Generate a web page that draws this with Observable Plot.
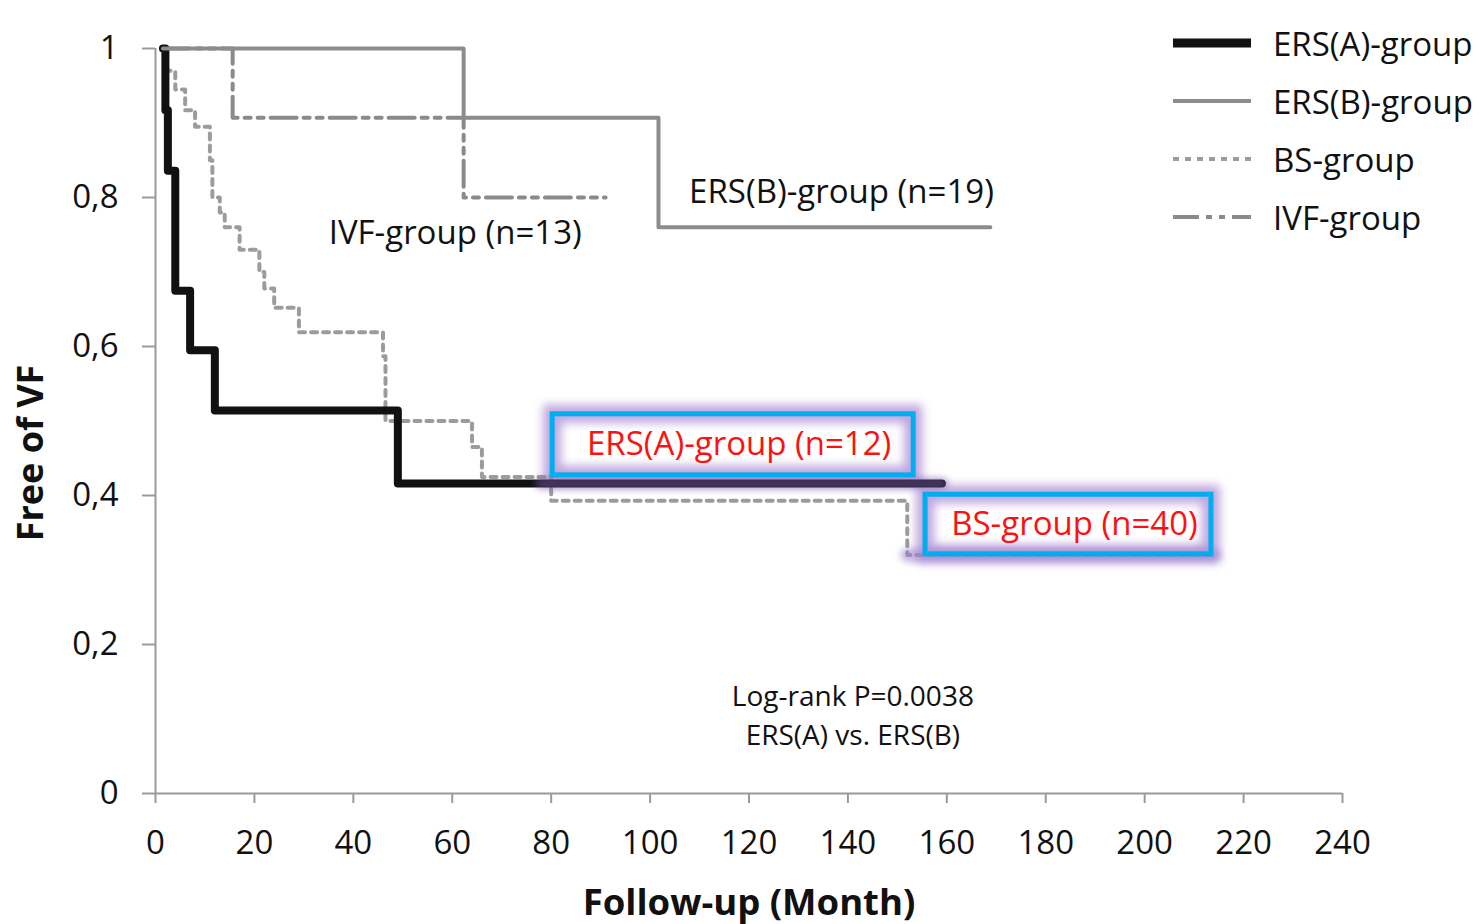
<!DOCTYPE html>
<html><head><meta charset="utf-8">
<script src="https://cdn.jsdelivr.net/npm/d3@7"></script>
<script src="https://cdn.jsdelivr.net/npm/@observablehq/plot@0.6"></script>
<style>
html,body{margin:0;padding:0;background:#fff;}
#wrap{position:relative;width:1480px;height:924px;font-family:"Open Sans",Lato,sans-serif;}
#legend{position:absolute;left:1173px;top:14px;}
.li{display:flex;align-items:center;height:58px;font-size:33px;color:#111;}
.li svg{margin-right:22px;}
</style></head>
<body><div id="wrap"><div id="legend"></div></div>
<script>
// ---- data (month, survival) ----
const ersATime = [1.5, 2, 2.5, 4, 7, 12, 49, 159];
const ersASurv = [1, 0.917, 0.836, 0.675, 0.595, 0.514, 0.416, 0.416];

const ersBTime = [1.5, 62.3, 101.7, 168.8];
const ersBSurv = [1, 0.907, 0.76, 0.76];

const bsTime = [1.5, 2, 4, 6, 8, 11, 11.5, 13, 14, 17, 21, 22, 24, 29, 46, 46.5, 64, 66, 80, 152, 214];
const bsSurv = [1, 0.97, 0.945, 0.917, 0.895, 0.85, 0.80, 0.78, 0.76, 0.73, 0.70, 0.678, 0.652, 0.619, 0.587, 0.5, 0.465, 0.425, 0.393, 0.32, 0.32];

const ivfTime = [1.5, 15.6, 62.3, 91];
const ivfSurv = [1, 0.907, 0.80, 0.80];

const groupNames = ["ERS(A)-group", "ERS(B)-group", "BS-group", "IVF-group"];

const xTicks = [0, 20, 40, 60, 80, 100, 120, 140, 160, 180, 200, 220, 240];
const yTicks = [0, 0.2, 0.4, 0.6, 0.8, 1];
const yTickLabels = ["0", "0,2", "0,4", "0,6", "0,8", "1"];

const labelText = ["IVF-group (n=13)", "ERS(B)-group (n=19)"];
const labelX = [60.6, 138.7];
const labelY = [0.752, 0.807];

const boxText = ["ERS(A)-group (n=12)", "BS-group (n=40)"];
const boxX1 = [80.3, 155.7];
const boxX2 = [153.3, 213.5];
const boxY1 = [0.427, 0.321];
const boxY2 = [0.509, 0.401];

const statText = "Log-rank P=0.0038\nERS(A) vs. ERS(B)";
const statX = 141;
const statY = 0.108;

// ---- build tables ----
const toRows = (t, s) => t.map((d, i) => ({t: d, s: s[i]}));
const ersA = toRows(ersATime, ersASurv);
const ersB = toRows(ersBTime, ersBSurv);
const bs = toRows(bsTime, bsSurv);
const ivf = toRows(ivfTime, ivfSurv);
const labels = labelText.map((l, i) => ({l, x: labelX[i], y: labelY[i]}));
const boxes = boxText.map((l, i) => ({l, x1: boxX1[i], x2: boxX2[i], y1: boxY1[i], y2: boxY2[i]}));
const ersATail = ersA.filter(d => d.t >= 49).map(d => ({t: Math.max(d.t, 78), s: d.s}));
const bsTail = bs.filter(d => d.t >= 152);

const step = "step-after";
const chart = Plot.plot({
  width: 1480,
  height: 924,
  marginLeft: 155,
  marginRight: 138,
  marginTop: 48,
  marginBottom: 131,
  style: {fontFamily: "'Open Sans', Lato, sans-serif", background: "white", color: "#111"},
  x: {domain: [0, 240], axis: null},
  y: {domain: [0, 1], axis: null},
  marks: [
    // axes
    Plot.ruleY([0], {stroke: "#9a9a9a", strokeWidth: 2}),
    Plot.ruleX([0], {stroke: "#9a9a9a", strokeWidth: 2}),
    Plot.axisX({ticks: xTicks, tickSize: 10, tickPadding: 27, fontSize: 33, stroke: "#9a9a9a", strokeWidth: 2, label: null, tickFormat: d => String(d)}),
    Plot.axisY({ticks: yTicks, tickSize: 13, tickPadding: 24, fontSize: 33, stroke: "#9a9a9a", strokeWidth: 2, label: null, tickFormat: (d) => yTickLabels[yTicks.indexOf(d)]}),
    Plot.text(["Follow-up (Month)"], {frameAnchor: "bottom", dy: 121, fontSize: 36.5, fontWeight: "bold", fill: "#111"}),
    Plot.text(["Free of VF"], {frameAnchor: "left", textAnchor: "middle", dx: -124, dy: 32, rotate: -90, fontSize: 36, fontWeight: "bold", fill: "#111"}),
    // glows behind boxes
    Plot.rect(boxes, {x1: "x1", x2: "x2", y1: "y1", y2: "y2", fill: "none", stroke: "#b496d8", strokeWidth: 18, strokeOpacity: 0.85, imageFilter: "blur(5px)"}),
    // curves
    Plot.line(ivf, {x: "t", y: "s", curve: step, stroke: "#8a8a8a", strokeWidth: 4, strokeDasharray: "26,7,6,7,6,7"}),
    Plot.line(bs, {x: "t", y: "s", curve: step, stroke: "#9c9c9c", strokeWidth: 4, strokeDasharray: "6,6"}),
    Plot.line(ersA, {x: "t", y: "s", curve: step, stroke: "#111", strokeWidth: 8}),
    Plot.line(ersB, {x: "t", y: "s", curve: step, stroke: "#8c8c8c", strokeWidth: 4}),
    // purple glow over highlighted tails
    Plot.line(ersATail, {x: "t", y: "s", curve: step, stroke: "#7a5ab0", strokeWidth: 12, strokeOpacity: 0.5, imageFilter: "blur(3px)"}),
    Plot.line(bsTail, {x: "t", y: "s", curve: step, stroke: "#9c7ed0", strokeWidth: 14, strokeOpacity: 0.55, imageFilter: "blur(3px)"}),
    // boxes
    Plot.rect(boxes, {x1: "x1", x2: "x2", y1: "y1", y2: "y2", fill: "none", stroke: "#00aef0", strokeWidth: 5}),
    Plot.text(boxes, {x: d => (d.x1 + d.x2) / 2, y: d => (d.y1 + d.y2) / 2, text: "l", fill: "#ff1010", fontSize: 33, dx: 6}),
    // labels
    Plot.text(labels, {x: "x", y: "y", text: "l", fill: "#111", fontSize: 33}),
    Plot.text([statText], {x: statX, y: statY, fill: "#111", fontSize: 28, lineHeight: 1.38})
  ]
});
document.getElementById("wrap").prepend(chart);

// legend
const legendStyles = [
  {stroke: "#111", width: 9, dash: null},
  {stroke: "#8c8c8c", width: 4, dash: null},
  {stroke: "#9c9c9c", width: 4, dash: "6,6"},
  {stroke: "#8a8a8a", width: 4, dash: "26,7,6,7,6,7"}
];
const legend = d3.select("#legend");
groupNames.forEach((name, i) => {
  const row = legend.append("div").attr("class", "li");
  const svg = row.append("svg").attr("width", 78).attr("height", 20);
  const st = legendStyles[i];
  svg.append("line").attr("x1", 0).attr("x2", 78).attr("y1", 10).attr("y2", 10)
    .attr("stroke", st.stroke).attr("stroke-width", st.width)
    .attr("stroke-dasharray", st.dash);
  row.append("span").text(name);
});
</script>
</body></html>
